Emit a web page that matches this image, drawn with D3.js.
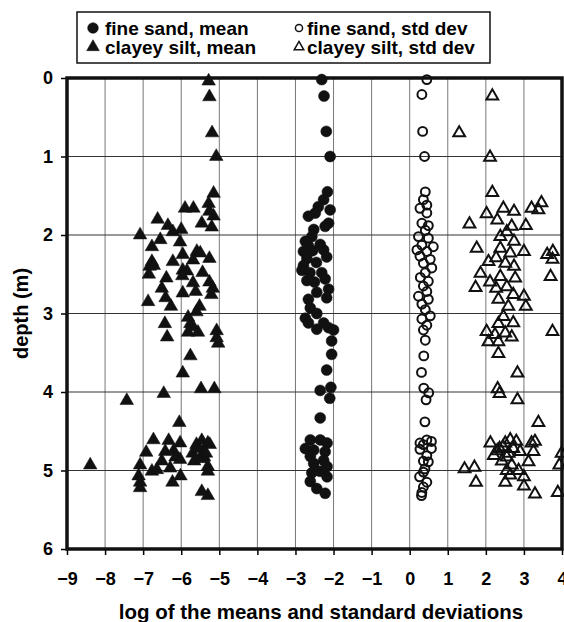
<!DOCTYPE html>
<html>
<head>
<meta charset="utf-8">
<script src="https://cdn.jsdelivr.net/npm/d3@7"></script>
<style>
  body { margin: 0; background: #fff; }
  text { font-family: "Liberation Sans", Arial, sans-serif; font-weight: bold; }
</style>
</head>
<body>
<div id="chart"></div>
<script>
// tick labels
const xTicks = [-9, -8, -7, -6, -5, -4, -3, -2, -1, 0, 1, 2, 3, 4];
const yTicks = [0, 1, 2, 3, 4, 5, 6];

// [log value, depth (m)]
const siltMean = [
  [-5.28, 0.04], [-5.26, 0.24], [-5.19, 0.70], [-5.08, 1.00], [-5.15, 1.47], [-5.28, 1.60],
  [-5.26, 1.70], [-5.15, 1.76], [-5.46, 1.85], [-5.20, 1.90], [-5.90, 1.66], [-5.68, 1.66],
  [-6.62, 1.80], [-6.35, 1.88], [-6.22, 1.96], [-6.00, 1.93], [-7.08, 2.00], [-6.55, 2.06],
  [-6.77, 2.15], [-6.03, 2.09], [-5.96, 2.25], [-5.59, 2.21], [-5.50, 2.23], [-5.69, 2.32],
  [-5.26, 2.30], [-6.77, 2.34], [-6.83, 2.40], [-6.72, 2.39], [-6.22, 2.34], [-6.85, 2.50],
  [-6.39, 2.55], [-5.96, 2.45], [-5.85, 2.46], [-5.97, 2.52], [-5.44, 2.48], [-5.69, 2.61],
  [-5.26, 2.60], [-5.17, 2.68], [-6.51, 2.68], [-5.62, 2.72], [-5.96, 2.74], [-5.21, 2.76],
  [-6.41, 2.80], [-6.87, 2.85], [-6.27, 2.91], [-5.52, 2.91], [-5.60, 2.98], [-5.82, 3.05],
  [-6.43, 3.13], [-5.76, 3.13], [-5.69, 3.17], [-6.37, 3.30], [-5.82, 3.24], [-5.56, 3.24],
  [-5.07, 3.22], [-5.07, 3.31], [-5.03, 3.38], [-5.76, 3.54], [-5.96, 3.76], [-5.48, 3.96],
  [-5.13, 3.96], [-6.46, 4.02], [-7.43, 4.11], [-6.05, 4.39], [-6.73, 4.61], [-6.33, 4.62],
  [-6.03, 4.65], [-5.46, 4.62], [-5.30, 4.65], [-5.25, 4.67], [-5.60, 4.67], [-6.92, 4.77],
  [-6.42, 4.76], [-6.20, 4.75], [-5.70, 4.78], [-5.43, 4.78], [-6.51, 4.88], [-6.15, 4.83],
  [-6.03, 4.86], [-5.66, 4.88], [-5.40, 4.83], [-7.08, 4.93], [-8.39, 4.93], [-6.77, 5.01],
  [-6.64, 4.99], [-6.29, 4.97], [-5.30, 4.95], [-5.30, 5.01], [-7.12, 5.07], [-6.02, 5.07],
  [-7.08, 5.15], [-6.23, 5.15], [-7.08, 5.22], [-5.46, 5.27], [-5.30, 5.32], [-5.55, 4.72],
  [-5.50, 4.85], [-5.35, 4.78]
];

const sandMean = [
  [-2.31, 0.02], [-2.25, 0.23], [-2.19, 0.68], [-2.09, 1.00], [-2.16, 1.45], [-2.26, 1.55],
  [-2.40, 1.64], [-2.09, 1.68], [-2.48, 1.72], [-2.66, 1.76], [-2.13, 1.85], [-2.22, 1.89],
  [-2.52, 1.93], [-2.57, 2.02], [-2.74, 2.08], [-2.66, 2.14], [-2.35, 2.12], [-2.26, 2.19],
  [-2.79, 2.21], [-2.70, 2.30], [-2.18, 2.28], [-2.79, 2.39], [-2.83, 2.45], [-2.62, 2.48],
  [-2.70, 2.58], [-2.31, 2.48], [-2.22, 2.56], [-2.13, 2.69], [-2.18, 2.80], [-2.44, 2.73],
  [-2.66, 2.82], [-2.61, 2.93], [-2.74, 3.06], [-2.44, 3.00], [-2.66, 3.12], [-2.44, 3.20],
  [-2.26, 3.12], [-2.13, 3.18], [-2.00, 3.21], [-2.05, 3.35], [-2.05, 3.52], [-2.18, 3.72],
  [-2.35, 3.98], [-2.07, 3.94], [-2.10, 4.08], [-2.35, 4.33], [-2.61, 4.61], [-2.35, 4.61],
  [-2.17, 4.65], [-2.74, 4.72], [-2.52, 4.74], [-2.22, 4.76], [-2.61, 4.82], [-2.26, 4.87],
  [-2.52, 4.91], [-2.17, 4.95], [-2.57, 5.03], [-2.35, 5.01], [-2.61, 5.14], [-2.44, 5.23],
  [-2.22, 5.29], [-2.17, 5.08], [-2.55, 2.20], [-2.45, 2.35], [-2.50, 2.60]
];

const sandStd = [
  [0.45, 0.02], [0.32, 0.21], [0.34, 0.68], [0.39, 1.00], [0.41, 1.45], [0.36, 1.55],
  [0.45, 1.62], [0.27, 1.66], [0.45, 1.72], [0.32, 1.85], [0.49, 1.88], [0.41, 1.94],
  [0.23, 2.02], [0.49, 2.04], [0.62, 2.15], [0.32, 2.13], [0.19, 2.19], [0.45, 2.21],
  [0.27, 2.27], [0.54, 2.31], [0.36, 2.36], [0.58, 2.42], [0.41, 2.48], [0.28, 2.54],
  [0.49, 2.59], [0.36, 2.65], [0.45, 2.72], [0.23, 2.78], [0.49, 2.82], [0.32, 2.88],
  [0.41, 2.95], [0.54, 3.03], [0.32, 3.07], [0.45, 3.15], [0.36, 3.21], [0.41, 3.34],
  [0.37, 3.54], [0.31, 3.75], [0.37, 3.95], [0.50, 4.01], [0.43, 4.10], [0.40, 4.38],
  [0.27, 4.65], [0.45, 4.61], [0.57, 4.63], [0.36, 4.67], [0.57, 4.72], [0.27, 4.73],
  [0.45, 4.81], [0.36, 4.88], [0.49, 4.89], [0.40, 4.98], [0.36, 5.02], [0.26, 5.08],
  [0.45, 5.15], [0.36, 5.21], [0.32, 5.28], [0.31, 5.32]
];

const siltStd = [
  [2.17, 0.23], [1.30, 0.70], [2.11, 1.01], [2.17, 1.46], [1.57, 1.86], [2.02, 1.73],
  [2.46, 1.66], [2.74, 1.70], [2.30, 1.81], [3.20, 1.66], [3.46, 1.59], [3.38, 1.68],
  [2.68, 1.89], [3.05, 1.88], [2.38, 2.02], [2.55, 1.96], [2.74, 2.08], [1.76, 2.17],
  [2.38, 2.17], [3.00, 2.21], [2.64, 2.23], [2.07, 2.34], [2.27, 2.29], [2.51, 2.36],
  [2.74, 2.40], [3.61, 2.25], [3.76, 2.21], [3.75, 2.31], [3.70, 2.53], [1.86, 2.49],
  [2.11, 2.60], [2.38, 2.53], [2.77, 2.55], [1.73, 2.67], [2.27, 2.68], [2.55, 2.66],
  [2.72, 2.76], [3.00, 2.78], [2.33, 2.82], [2.59, 2.91], [3.05, 2.91], [2.46, 3.04],
  [2.72, 3.12], [2.33, 3.13], [2.02, 3.23], [2.24, 3.27], [2.51, 3.25], [2.68, 3.30],
  [2.07, 3.36], [2.33, 3.36], [3.75, 3.23], [2.33, 3.51], [2.83, 3.76], [2.31, 3.96],
  [2.36, 4.02], [2.83, 4.10], [3.38, 4.39], [2.12, 4.65], [2.21, 4.81], [2.36, 4.72],
  [2.51, 4.65], [2.64, 4.61], [2.80, 4.63], [2.72, 4.72], [2.90, 4.76], [2.55, 4.83],
  [2.42, 4.88], [3.20, 4.65], [3.29, 4.63], [3.25, 4.76], [3.12, 4.89], [2.68, 4.93],
  [2.55, 5.00], [2.86, 5.00], [2.64, 5.06], [3.00, 5.08], [2.51, 5.15], [3.00, 5.20],
  [3.29, 5.30], [1.44, 4.98], [1.70, 4.96], [1.74, 5.15], [3.89, 5.28], [3.93, 4.93],
  [3.99, 4.78], [2.30, 4.75], [2.45, 4.70], [2.60, 4.78]
];

const width = 564, height = 622;
const margin = { top: 78, right: 2, bottom: 73, left: 67 };

const svg = d3.select("#chart").append("svg")
  .attr("width", width)
  .attr("height", height);

const x = d3.scaleLinear().domain([-9, 4]).range([margin.left, width - margin.right]);
const y = d3.scaleLinear().domain([0, 6]).range([margin.top, height - margin.bottom]);

// grid
svg.append("g").selectAll("line").data(xTicks).enter().append("line")
  .attr("x1", d => x(d)).attr("x2", d => x(d))
  .attr("y1", y(0)).attr("y2", y(6))
  .attr("stroke", "#777").attr("stroke-width", 1);
svg.append("g").selectAll("line").data(yTicks).enter().append("line")
  .attr("x1", x(-9)).attr("x2", x(4))
  .attr("y1", d => y(d)).attr("y2", d => y(d))
  .attr("stroke", "#333").attr("stroke-width", 1);

// axes
const xAxis = svg.append("g")
  .attr("transform", `translate(0,${y(6)})`)
  .call(d3.axisBottom(x).tickValues(xTicks).tickSize(6).tickPadding(17).tickFormat(d3.format("d")));
const yAxis = svg.append("g")
  .attr("transform", `translate(${x(-9)},0)`)
  .call(d3.axisLeft(y).tickValues(yTicks).tickSize(6).tickPadding(8).tickFormat(d3.format("d")));
[xAxis, yAxis].forEach(a => {
  a.select(".domain").remove();
  a.selectAll(".tick line").attr("stroke", "#000").attr("stroke-width", 1.5);
  a.selectAll(".tick text").attr("fill", "#000").style("font-size", "18px")
    .style("font-family", "'Liberation Sans', Arial, sans-serif").style("font-weight", "bold");
});

// frame
svg.append("rect")
  .attr("x", x(-9)).attr("y", y(0))
  .attr("width", x(4) - x(-9)).attr("height", y(6) - y(0))
  .attr("fill", "none").attr("stroke", "#111").attr("stroke-width", 3.5);

// markers
const tri = d3.symbol().type(d3.symbolTriangle).size(80);
const triOpen = d3.symbol().type(d3.symbolTriangle).size(60);
const circ = d3.symbol().type(d3.symbolCircle).size(95);
const circOpen = d3.symbol().type(d3.symbolCircle).size(62);

function drawSeries(data, gen, filled) {
  svg.append("g").selectAll("path").data(data).enter().append("path")
    .attr("d", gen)
    .attr("transform", d => `translate(${x(d[0])},${y(d[1])})`)
    .attr("fill", filled ? "#111" : "none")
    .attr("stroke", "#111")
    .attr("stroke-width", filled ? 0.5 : 2);
}
drawSeries(siltMean, tri, true);
drawSeries(sandMean, circ, true);
drawSeries(sandStd, circOpen, false);
drawSeries(siltStd, triOpen, false);

// axis titles
svg.append("text")
  .attr("x", 321).attr("y", 619)
  .attr("text-anchor", "middle")
  .style("font-size", "20.5px")
  .text("log of the means and standard deviations");
svg.append("text")
  .attr("transform", `translate(28,${(y(0) + y(6)) / 2}) rotate(-90)`)
  .attr("text-anchor", "middle")
  .style("font-size", "20px")
  .text("depth (m)");

// legend
const legend = svg.append("g");
legend.append("rect")
  .attr("x", 77).attr("y", 12).attr("width", 413).attr("height", 51)
  .attr("fill", "#fff").attr("stroke", "#111").attr("stroke-width", 1.5);
const legendItems = [
  { label: "fine sand, mean", gen: d3.symbol().type(d3.symbolCircle).size(90), filled: true, lx: 93, ly: 28 },
  { label: "clayey silt, mean", gen: d3.symbol().type(d3.symbolTriangle).size(70), filled: true, lx: 93, ly: 47 },
  { label: "fine sand, std dev", gen: d3.symbol().type(d3.symbolCircle).size(40), filled: false, lx: 299, ly: 28 },
  { label: "clayey silt, std dev", gen: d3.symbol().type(d3.symbolTriangle).size(40), filled: false, lx: 299, ly: 47 }
];
legendItems.forEach(it => {
  legend.append("path")
    .attr("d", it.gen())
    .attr("transform", `translate(${it.lx},${it.ly})`)
    .attr("fill", it.filled ? "#111" : "none")
    .attr("stroke", "#111")
    .attr("stroke-width", it.filled ? 0.5 : 1.5);
  legend.append("text")
    .attr("x", it.lx + (it.filled ? 12 : 8)).attr("y", it.ly + 7)
    .style("font-size", "19px")
    .text(it.label);
});
</script>
</body>
</html>
